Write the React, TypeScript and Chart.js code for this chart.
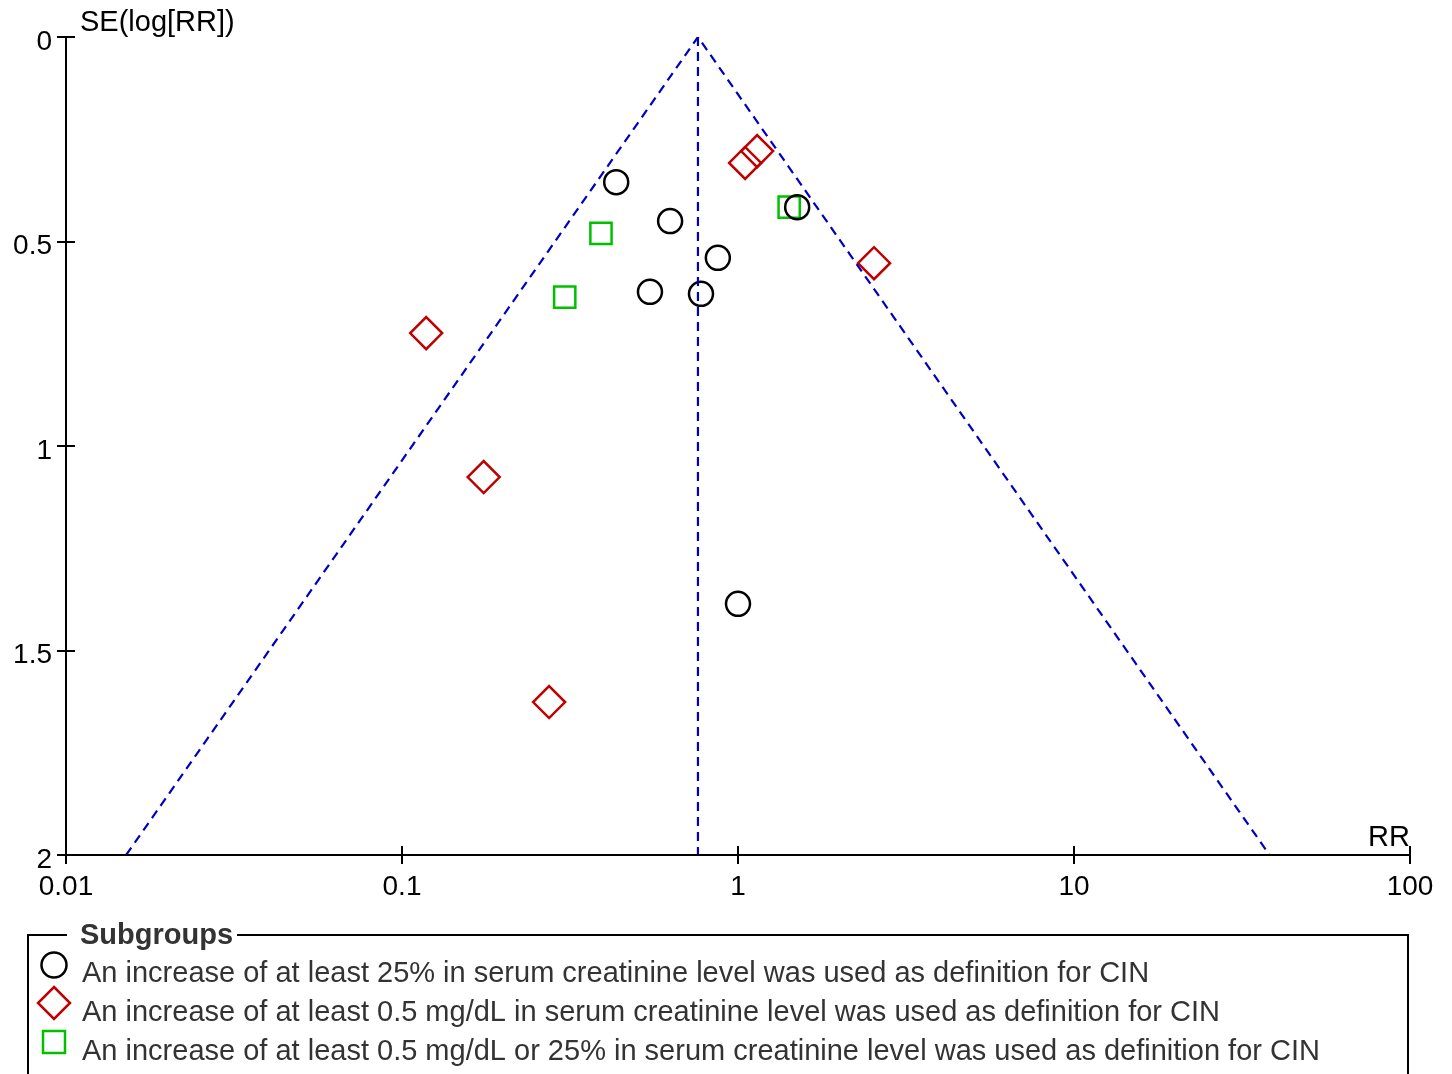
import React, { useEffect, useRef } from "react";
import { Chart, registerables } from "chart.js";

Chart.register(...registerables);

// ---- Data ----
const circleRR = [0.434, 0.628, 0.871, 0.547, 0.776, 1.5, 1.0];
const circleSE = [0.355, 0.45, 0.54, 0.623, 0.628, 0.416, 1.386];

const diamondRR = [1.14, 1.05, 2.54, 0.118, 0.175, 0.274];
const diamondSE = [0.279, 0.308, 0.553, 0.724, 1.076, 1.626];

const squareRR = [1.42, 0.391, 0.305];
const squareSE = [0.416, 0.48, 0.636];

const pooledRR = 0.76;
const funnelRR = [0.0151, pooledRR, 38.2];
const funnelSE = [2, 0, 2];

const xTicks = [0.01, 0.1, 1, 10, 100];
const yTicks = [0, 0.5, 1, 1.5, 2];

const legendTitle = "Subgroups";
const legendLabels = [
  "An increase of at least 25% in serum creatinine level was used as definition for CIN",
  "An increase of at least 0.5 mg/dL in serum creatinine level was used as definition for CIN",
  "An increase of at least 0.5 mg/dL or 25% in serum creatinine level was used as definition for CIN",
];
const xTitle = "RR";
const yTitle = "SE(log[RR])";

const FONT = '"Liberation Sans", Arial, Helvetica, sans-serif';
const BLACK = "#000000";
const RED = "#C00000";
const GREEN = "#00C000";
const BLUE = "#0000C0";
const TEXT = "#333333";

const toPts = (xs: number[], ys: number[]) => xs.map((x, i) => ({ x, y: ys[i] }));

function drawMarker(ctx: CanvasRenderingContext2D, kind: string, x: number, y: number, color: string) {
  ctx.save();
  ctx.strokeStyle = color;
  ctx.lineWidth = 2.5;
  ctx.beginPath();
  if (kind === "circle") {
    ctx.arc(x, y, 12.5, 0, Math.PI * 2);
  } else if (kind === "diamond") {
    const r = 16;
    ctx.moveTo(x, y - r);
    ctx.lineTo(x + r, y);
    ctx.lineTo(x, y + r);
    ctx.lineTo(x - r, y);
    ctx.closePath();
  } else {
    const s = 11;
    ctx.rect(x - s, y - s, 2 * s, 2 * s);
  }
  ctx.stroke();
  ctx.restore();
}

const decorPlugin = {
  id: "decor",
  afterDraw(chart: any) {
    const ctx: CanvasRenderingContext2D = chart.ctx;
    const xs = chart.scales.x;
    const ys = chart.scales.y;
    const area = chart.chartArea;
    ctx.save();
    // axis lines
    ctx.strokeStyle = BLACK;
    ctx.lineWidth = 2;
    ctx.beginPath();
    ctx.moveTo(area.left, area.top);
    ctx.lineTo(area.left, area.bottom);
    ctx.lineTo(area.right, area.bottom);
    ctx.stroke();
    // ticks crossing axes
    ctx.beginPath();
    xTicks.forEach((v) => {
      const px = Math.round(xs.getPixelForValue(v));
      const up = v === xTicks[0] ? 0 : 9;
      ctx.moveTo(px, area.bottom - up);
      ctx.lineTo(px, area.bottom + 9);
    });
    yTicks.forEach((v) => {
      const py = Math.round(ys.getPixelForValue(v));
      const inner = v === yTicks[yTicks.length - 1] ? 0 : 9;
      ctx.moveTo(area.left - 9, py);
      ctx.lineTo(area.left + inner, py);
    });
    ctx.stroke();
    // axis titles
    ctx.fillStyle = BLACK;
    ctx.font = `29px ${FONT}`;
    ctx.textAlign = "left";
    ctx.textBaseline = "middle";
    ctx.fillText(yTitle, 80, 23);
    ctx.textAlign = "right";
    ctx.textBaseline = "alphabetic";
    ctx.fillText(xTitle, area.right, 846);

    // legend frame
    ctx.lineWidth = 2;
    ctx.strokeStyle = BLACK;
    ctx.beginPath();
    ctx.moveTo(67, 935);
    ctx.lineTo(28, 935);
    ctx.lineTo(28, 1080);
    ctx.moveTo(237, 935);
    ctx.lineTo(1408, 935);
    ctx.lineTo(1408, 1080);
    ctx.stroke();
    ctx.fillStyle = TEXT;
    ctx.textAlign = "left";
    ctx.textBaseline = "middle";
    ctx.font = `bold 29px ${FONT}`;
    ctx.fillText(legendTitle, 80, 936);
    ctx.font = `29px ${FONT}`;
    const kinds = ["circle", "diamond", "square"];
    const cols = [BLACK, RED, GREEN];
    const rowY = [974, 1013, 1052];
    const markY = [965, 1003, 1042];
    legendLabels.forEach((t, i) => {
      drawMarker(ctx, kinds[i], 54, markY[i], cols[i]);
      ctx.fillStyle = TEXT;
      ctx.fillText(t, 82, rowY[i]);
    });
    ctx.restore();
  },
};

export default function App() {
  const ref = useRef<HTMLCanvasElement | null>(null);
  useEffect(() => {
    document.body.style.margin = "0";
    const canvas = ref.current!;
    const chart = new Chart(canvas, {
      type: "scatter",
      data: {
        datasets: [
          {
            type: "line",
            data: toPts(funnelRR, funnelSE),
            borderColor: BLUE,
            borderWidth: 2.2,
            borderDash: [9, 6],
            pointRadius: 0,
            fill: false,
            tension: 0,
          } as any,
          {
            type: "line",
            data: toPts([pooledRR, pooledRR], [0, 2]),
            borderColor: BLUE,
            borderWidth: 2.2,
            borderDash: [9, 6],
            pointRadius: 0,
            fill: false,
          } as any,
          {
            data: toPts(circleRR, circleSE),
            pointStyle: "circle",
            pointRadius: 12,
            borderColor: BLACK,
            backgroundColor: "rgba(0,0,0,0)",
            borderWidth: 2.5,
          },
          {
            data: toPts(diamondRR, diamondSE),
            pointStyle: "rectRot",
            pointRadius: 16,
            borderColor: RED,
            backgroundColor: "rgba(0,0,0,0)",
            borderWidth: 2.5,
          },
          {
            data: toPts(squareRR, squareSE),
            pointStyle: "rect",
            pointRadius: 15,
            borderColor: GREEN,
            backgroundColor: "rgba(0,0,0,0)",
            borderWidth: 2.5,
          },
        ],
      },
      options: {
        animation: false,
        responsive: false,
        events: [],
        layout: { padding: { left: 0, top: 37, right: 42, bottom: 159 } },
        plugins: { legend: { display: false }, tooltip: { enabled: false } },
        scales: {
          x: {
            type: "logarithmic",
            min: 0.01,
            max: 100,
            afterBuildTicks: (s: any) => {
              s.ticks = xTicks.map((v) => ({ value: v }));
            },
            afterFit: (s: any) => {
              s.height = 60;
            },
            grid: { display: false, drawTicks: false },
            border: { display: false },
            ticks: {
              color: BLACK,
              font: { family: FONT, size: 28 },
              padding: 15,
              maxRotation: 0,
              autoSkip: false,
              callback: (v: any) => String(v),
            },
          },
          y: {
            type: "linear",
            reverse: true,
            min: 0,
            max: 2,
            afterBuildTicks: (s: any) => {
              s.ticks = yTicks.map((v) => ({ value: v }));
            },
            afterFit: (s: any) => {
              s.width = 66;
            },
            grid: { display: false, drawTicks: false },
            border: { display: false },
            ticks: {
              color: BLACK,
              font: { family: FONT, size: 28 },
              padding: 14,
              labelOffset: 5,
              autoSkip: false,
              callback: (v: any) => String(v),
            },
          },
        },
      },
      plugins: [decorPlugin],
    });
    return () => chart.destroy();
  }, []);
  return (
    <div style={{ width: 1452, height: 1074, overflow: "hidden", background: "#fff" }}>
      <canvas ref={ref} width={1452} height={1074} style={{ display: "block", width: 1452, height: 1074 }} />
    </div>
  );
}
